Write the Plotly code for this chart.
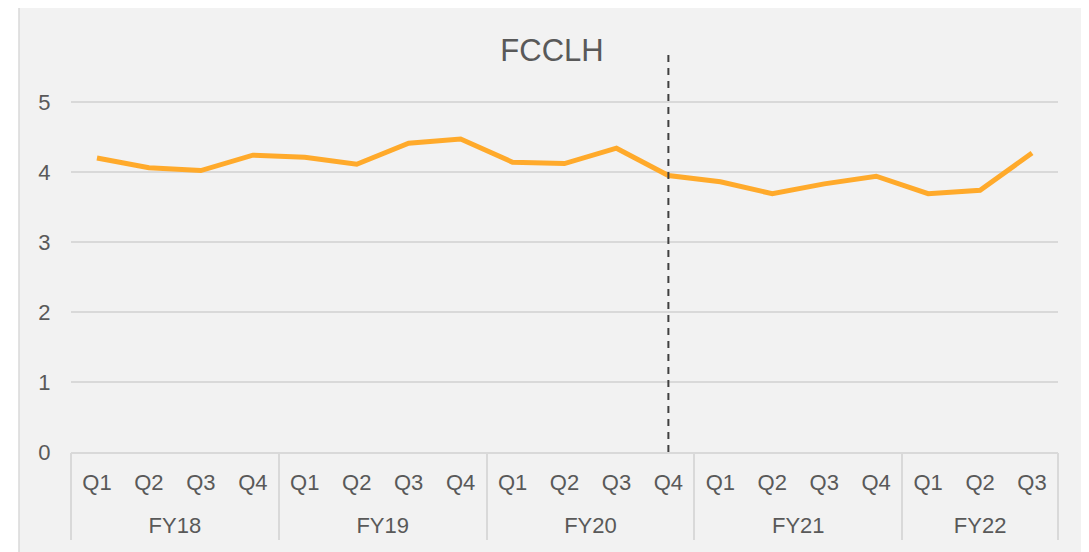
import plotly.graph_objects as go

fiscal_years = ["FY18"] * 4 + ["FY19"] * 4 + ["FY20"] * 4 + ["FY21"] * 4 + ["FY22"] * 3
quarters = ["Q1", "Q2", "Q3", "Q4"] * 4 + ["Q1", "Q2", "Q3"]
values = [4.20, 4.06, 4.02, 4.24, 4.21, 4.11, 4.41, 4.47, 4.14, 4.12, 4.34, 3.95,
          3.86, 3.69, 3.83, 3.94, 3.69, 3.74, 4.27]
title_text = "FCCLH"
marker_year, marker_quarter = "FY20", "Q4"

FONT = "Liberation Sans, Arial, sans-serif"
GRAY = "#595959"
GRID = "#D9D9D9"
YMAX = 5.714

# positions along the category axis (one slot per quarter)
idx = list(range(len(values)))
years_unique = list(dict.fromkeys(fiscal_years))
year_centers, boundaries = [], [-0.5]
for yr in years_unique:
    pos = [i for i, f in enumerate(fiscal_years) if f == yr]
    year_centers.append((pos[0] + pos[-1]) / 2)
    boundaries.append(pos[-1] + 0.5)
marker_x = next(i for i in idx if fiscal_years[i] == marker_year and quarters[i] == marker_quarter)

fig = go.Figure()
fig.add_trace(go.Scatter(
    x=idx, y=values, mode="lines", line=dict(color="#FFAA2B", width=5),
    customdata=[f"{f} {q}" for f, q in zip(fiscal_years, quarters)],
    hovertemplate="%{customdata}: %{y}<extra></extra>",
))
fig.add_trace(go.Scatter(
    x=[marker_x, marker_x], y=[0, YMAX], mode="lines",
    line=dict(color="#404040", width=2, dash="7px,6px"), hoverinfo="skip",
))

# page has an 8px body margin, so figure coordinates are offset by 8px
fig.update_layout(
    width=1081, height=544,
    margin=dict(l=63, r=31, t=44, b=100),
    paper_bgcolor="white", plot_bgcolor="rgba(0,0,0,0)",
    showlegend=False,
    font=dict(family=FONT, color=GRAY, size=22),
    title=dict(text=title_text, x=544 / 1081, xanchor="center", xref="container",
               y=1 - 42 / 544, yanchor="middle",
               font=dict(family=FONT, size=31, color=GRAY)),
    shapes=[dict(type="rect", xref="paper", yref="paper",
                 x0=(11 - 63) / 987, x1=(1077 - 63) / 987,
                 y0=-0.35, y1=(444 + 1) / 400, layer="below",
                 fillcolor="#F2F2F2", line=dict(color=GRID, width=1.5))],
    xaxis=dict(
        range=[-0.5, len(values) - 0.5], tickmode="array", tickvals=idx, ticktext=quarters,
        showgrid=False, zeroline=False, showline=True, linecolor=GRID, linewidth=1.5,
        ticks="outside", ticklen=10, tickcolor="rgba(0,0,0,0)",
        tickfont=dict(size=22, color=GRAY, family=FONT),
    ),
    xaxis2=dict(
        overlaying="x", anchor="y", side="bottom", matches="x",
        tickmode="array", tickvals=year_centers, ticktext=years_unique,
        showgrid=False, zeroline=False, showline=False,
        ticks="outside", ticklen=54, tickcolor="rgba(0,0,0,0)",
        tickfont=dict(size=22, color=GRAY, family=FONT),
    ),
    xaxis3=dict(
        overlaying="x", anchor="y", side="bottom", matches="x",
        tickmode="array", tickvals=boundaries, showticklabels=False,
        showgrid=False, zeroline=False, showline=False,
        ticks="outside", ticklen=87, tickcolor=GRID, tickwidth=1.5,
    ),
    yaxis=dict(
        range=[0, YMAX], tickvals=[0, 1, 2, 3, 4, 5], showgrid=True, gridcolor=GRID,
        gridwidth=1.5, zeroline=False, showline=False, ticks="outside", ticklen=15,
        tickcolor="rgba(0,0,0,0)", tickfont=dict(size=22, color=GRAY, family=FONT),
    ),
)
# invisible helper traces so the overlay axes are drawn
fig.add_trace(go.Scatter(x=[idx[0]], y=[0], xaxis="x2", mode="markers",
                         marker=dict(opacity=0), hoverinfo="skip"))
fig.add_trace(go.Scatter(x=[idx[0]], y=[0], xaxis="x3", mode="markers",
                         marker=dict(opacity=0), hoverinfo="skip"))

fig.write_html("out.html")
